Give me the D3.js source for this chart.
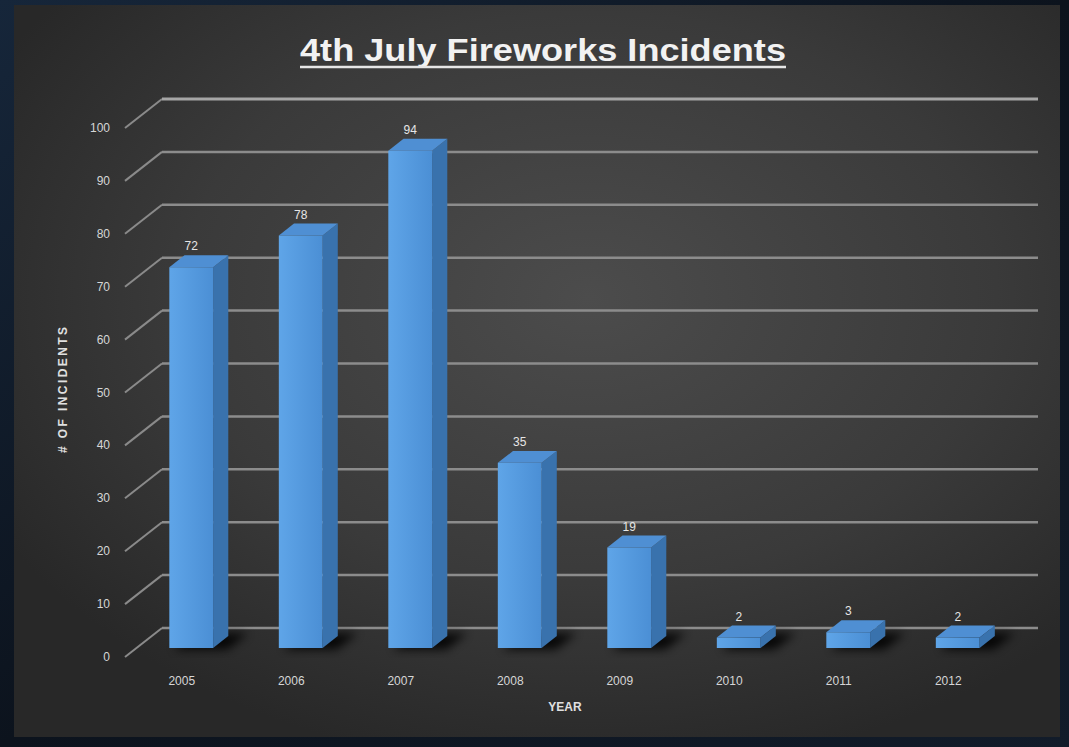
<!DOCTYPE html>
<html>
<head>
<meta charset="utf-8">
<script src="https://cdn.jsdelivr.net/npm/d3@7"></script>
<style>
  html, body { margin: 0; padding: 0; background: #0f1824; }
  svg { display: block; }
</style>
</head>
<body>
<div id="chart"></div>
<script>
const years = ['2005', '2006', '2007', '2008', '2009', '2010', '2011', '2012']
const incidents = [72, 78, 94, 35, 19, 2, 3, 2]
const yTicks = [0, 10, 20, 30, 40, 50, 60, 70, 80, 90, 100]
const title = '4th July Fireworks Incidents'
const yTitle = '# OF INCIDENTS'
const xTitle = 'YEAR'

const width = 1069
const height = 747

// depth of the 3d box: front edge z=0, back wall z=1
const DX = 37
const DY = 29
const barFront = 0.31
const barBack = 0.72

const svg = d3.select('#chart').append('svg')
  .attr('width', width)
  .attr('height', height)

const defs = svg.append('defs')

const outer = defs.append('linearGradient').attr('id', 'outer')
  .attr('x1', 0).attr('y1', 0).attr('x2', 1).attr('y2', 1)
outer.append('stop').attr('offset', 0).attr('stop-color', '#16263a')
outer.append('stop').attr('offset', 0.5).attr('stop-color', '#0c131d')
outer.append('stop').attr('offset', 1).attr('stop-color', '#121c2a')

const panel = defs.append('radialGradient').attr('id', 'panel')
  .attr('cx', '55%').attr('cy', '40%').attr('r', '65%')
panel.append('stop').attr('offset', 0).attr('stop-color', '#4c4c4c')
panel.append('stop').attr('offset', 0.6).attr('stop-color', '#3a3a3a')
panel.append('stop').attr('offset', 1).attr('stop-color', '#282828')

const front = defs.append('linearGradient').attr('id', 'barFront')
  .attr('x1', 0).attr('y1', 0).attr('x2', 1).attr('y2', 0)
front.append('stop').attr('offset', 0).attr('stop-color', '#5fa5e8')
front.append('stop').attr('offset', 1).attr('stop-color', '#4b8fd5')

defs.append('filter').attr('id', 'blur')
  .attr('x', '-50%').attr('y', '-50%').attr('width', '200%').attr('height', '200%')
  .append('feGaussianBlur').attr('stdDeviation', 5)

defs.append('filter').attr('id', 'soft')
  .append('feGaussianBlur').attr('stdDeviation', 0.5)

svg.append('rect').attr('width', width).attr('height', height).attr('fill', 'url(#outer)')
svg.append('rect')
  .attr('x', 14).attr('y', 5).attr('width', 1046).attr('height', 732)
  .attr('fill', 'url(#panel)')

const x = d3.scaleBand()
  .domain(years)
  .range([125, 1001])
  .paddingInner(0.6)
  .paddingOuter(0.3)

const y = d3.scaleLinear().domain([0, 100]).range([657, 128])

function project(px, v, z) {
  return [px + z * DX, y(v) - z * DY]
}

const line = d3.line()

// grid: diagonal on the side wall + horizontal on the back wall
const grid = svg.append('g').attr('filter', 'url(#soft)')
const x0 = x.range()[0]
const x1 = x.range()[1]

grid.selectAll('path.diag')
  .data(yTicks)
  .join('path')
  .attr('class', 'diag')
  .attr('d', (t) => line([project(x0, t, 0), project(x0, t, 1)]))
  .attr('stroke', '#8a8a8a')
  .attr('stroke-width', 2)
  .attr('fill', 'none')

grid.selectAll('path.back')
  .data(yTicks)
  .join('path')
  .attr('class', 'back')
  .attr('d', (t) => line([project(x0, t, 1), project(x1, t, 1)]))
  .attr('stroke', (t) => (t === 100 ? '#a6a6a6' : '#8c8c8c'))
  .attr('stroke-width', (t) => (t === 100 ? 3 : 2.5))
  .attr('fill', 'none')

// tick labels
svg.append('g')
  .selectAll('text')
  .data(yTicks)
  .join('text')
  .attr('x', 110)
  .attr('y', (t) => y(t) + 4)
  .attr('text-anchor', 'end')
  .attr('font-family', 'Liberation Sans, Arial, sans-serif')
  .attr('font-size', 12)
  .attr('fill', '#d6d6d6')
  .text((t) => t)

// bars
const data = years.map((yr, i) => ({ year: yr, value: incidents[i] }))
const bars = svg.append('g').selectAll('g').data(data).join('g')

// base shadow
bars.append('path')
  .attr('d', (d) => {
    const l = x(d.year)
    const r = l + x.bandwidth()
    return line([
      project(l + 6, 0, barFront - 0.05), project(r + 16, 0, barFront - 0.05),
      project(r + 16, 0, barBack + 0.1), project(l + 6, 0, barBack + 0.1),
    ]) + 'Z'
  })
  .attr('fill', '#000')
  .attr('opacity', 0.85)
  .attr('filter', 'url(#blur)')

bars.append('path')
  .attr('d', (d) => {
    const r = x(d.year) + x.bandwidth()
    return line([
      project(r, d.value, barFront), project(r, d.value, barBack),
      project(r, 0, barBack), project(r, 0, barFront),
    ]) + 'Z'
  })
  .attr('fill', '#3972ad')

bars.append('path')
  .attr('d', (d) => {
    const l = x(d.year)
    const r = l + x.bandwidth()
    return line([
      project(l, d.value, barFront), project(r, d.value, barFront),
      project(r, d.value, barBack), project(l, d.value, barBack),
    ]) + 'Z'
  })
  .attr('fill', '#4f8fd3')

bars.append('path')
  .attr('d', (d) => {
    const l = x(d.year)
    const r = l + x.bandwidth()
    return line([
      project(l, d.value, barFront), project(r, d.value, barFront),
      project(r, 0, barFront), project(l, 0, barFront),
    ]) + 'Z'
  })
  .attr('fill', 'url(#barFront)')

// value labels
bars.append('text')
  .attr('x', (d) => project(x(d.year) + x.bandwidth() / 2, d.value, barFront)[0])
  .attr('y', (d) => project(0, d.value, barBack)[1] - 5)
  .attr('text-anchor', 'middle')
  .attr('font-family', 'Liberation Sans, Arial, sans-serif')
  .attr('font-size', 12)
  .attr('fill', '#e6e6e6')
  .text((d) => d.value)

// year labels
svg.append('g')
  .selectAll('text')
  .data(years)
  .join('text')
  .attr('x', (d) => x(d) + x.bandwidth() / 2 + 2)
  .attr('y', 685)
  .attr('text-anchor', 'middle')
  .attr('font-family', 'Liberation Sans, Arial, sans-serif')
  .attr('font-size', 12)
  .attr('fill', '#d6d6d6')
  .text((d) => d)

// axis titles
svg.append('text')
  .attr('x', 565)
  .attr('y', 711)
  .attr('text-anchor', 'middle')
  .attr('font-family', 'Liberation Sans, Arial, sans-serif')
  .attr('font-weight', 'bold')
  .attr('font-size', 12)
  .attr('fill', '#e0e0e0')
  .text(xTitle)

svg.append('text')
  .attr('transform', 'translate(67,390) rotate(-90)')
  .attr('text-anchor', 'middle')
  .attr('font-family', 'Liberation Sans, Arial, sans-serif')
  .attr('font-weight', 'bold')
  .attr('font-size', 12)
  .attr('textLength', 126)
  .attr('lengthAdjust', 'spacing')
  .attr('fill', '#e0e0e0')
  .text(yTitle)

// title with underline
const titleText = svg.append('text')
  .attr('x', 543)
  .attr('y', 61)
  .attr('text-anchor', 'middle')
  .attr('font-family', 'Liberation Sans, Arial, sans-serif')
  .attr('font-weight', 'bold')
  .attr('font-size', 32)
  .attr('textLength', 486)
  .attr('lengthAdjust', 'spacingAndGlyphs')
  .attr('fill', '#f2f2f2')
  .text(title)

const tb = titleText.node().getBBox()
svg.append('line')
  .attr('x1', tb.x).attr('x2', tb.x + tb.width)
  .attr('y1', 67).attr('y2', 67)
  .attr('stroke', '#e6e6e6')
  .attr('stroke-width', 2.5)
</script>
</body>
</html>
